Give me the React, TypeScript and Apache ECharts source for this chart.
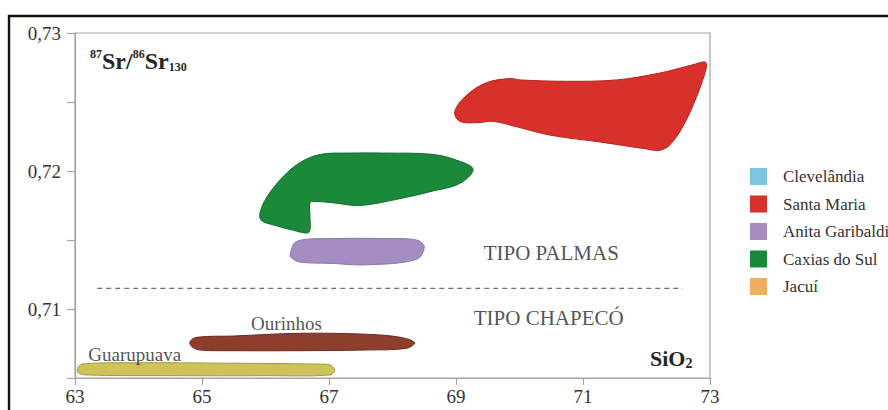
import React, { useEffect, useRef } from "react";
import * as echarts from "echarts";

// Axis ranges and ticks
const X_MIN = 63;
const X_MAX = 73;
const X_TICKS = [63, 65, 67, 69, 71, 73];
const Y_MIN = 0.705;
const Y_MAX = 0.73;
const Y_STEP = 0.005;
const Y_LABELED = [0.71, 0.72, 0.73];

// Legend entries
const LEGEND_NAMES = ["Clevelândia", "Santa Maria", "Anita Garibaldi", "Caxias do Sul", "Jacuí"];
const LEGEND_COLORS = ["#7cc6e0", "#d8312b", "#a38dc1", "#1a8a3a", "#f2ae60"];

// Field outlines: [SiO2, 87Sr/86Sr]
const santaMaria: [number, number][] = [
  [68.98, 0.7243], [69.17, 0.7255], [69.48, 0.7264], [69.85, 0.7267], [70.01, 0.7266],
  [70.74, 0.7265], [71.53, 0.7266], [72.21, 0.7271], [72.73, 0.7277], [72.92, 0.7279],
  [72.95, 0.7276], [72.79, 0.7254], [72.57, 0.7232], [72.37, 0.7219], [72.21, 0.7215],
  [72.0, 0.7216], [71.27, 0.7221], [70.48, 0.7226], [69.96, 0.7232], [69.58, 0.7236],
  [69.33, 0.7235], [69.06, 0.7236],
];

const caxiasDoSul: [number, number][] = [
  [65.91, 0.7169], [66.02, 0.7181], [66.28, 0.7196], [66.54, 0.7206], [66.86, 0.7212],
  [67.33, 0.7213], [67.86, 0.7213], [68.64, 0.7212], [69.06, 0.7207], [69.27, 0.7201],
  [69.06, 0.7191], [68.59, 0.7185], [68.12, 0.718], [67.49, 0.7175], [67.06, 0.7177],
  [66.75, 0.7178], [66.7, 0.7177], [66.7, 0.7167], [66.7, 0.7157], [66.65, 0.7155],
  [66.44, 0.7157], [66.12, 0.7161], [65.94, 0.7164],
];

const anitaGaribaldi: [number, number][] = [
  [66.39, 0.714], [66.49, 0.7149], [67.07, 0.7151], [67.86, 0.7151], [68.38, 0.715],
  [68.5, 0.7145], [68.38, 0.7136], [67.59, 0.7132], [67.07, 0.7133], [66.54, 0.7134],
  [66.41, 0.7137],
];

const ourinhos: [number, number][] = [
  [64.81, 0.70763], [64.92, 0.70795], [65.49, 0.70804], [66.54, 0.70824], [67.59, 0.70817],
  [68.12, 0.70795], [68.35, 0.70756], [68.22, 0.70715], [67.59, 0.70703], [66.54, 0.70698],
  [65.49, 0.70698], [64.97, 0.70703], [64.84, 0.70727],
];

const guarupuava: [number, number][] = [
  [63.04, 0.7057], [63.11, 0.70601], [63.92, 0.70611], [65.49, 0.70607], [66.81, 0.70601],
  [67.02, 0.70594], [67.09, 0.70558], [67.02, 0.70522], [66.02, 0.70517], [64.44, 0.70517],
  [63.18, 0.70522], [63.05, 0.70538],
];

// Palmas / Chapecó divider
const DIVIDER_X = [63.35, 72.57];
const DIVIDER_Y = 0.7115;

// In-plot annotations
const ANNOTATION_NAMES = ["TIPO PALMAS", "TIPO CHAPECÓ", "Ourinhos", "Guarupuava"];
const ANNOTATION_POS: [number, number][] = [
  [70.5, 0.71406],
  [70.46, 0.70935],
  [66.33, 0.70896],
  [63.94, 0.70667],
];
const ANNOTATION_SIZES = [21, 21, 19, 19];

const SERIF = "'Liberation Serif', 'DejaVu Serif', serif";
const AXIS_GRAY = "#aaa39d";
const INK = "#262626";

function fieldSeries(name: string, pts: [number, number][], fill: string, stroke: string) {
  return {
    type: "custom",
    name,
    data: pts,
    encode: { x: 0, y: 1 },
    itemStyle: { color: fill },
    silent: true,
    z: 3,
    renderItem: (params: any, api: any) => {
      if (params.dataIndex !== 0) return null;
      return {
        type: "polygon",
        shape: { points: pts.map((p) => api.coord(p)), smooth: 0.35 },
        style: { fill, stroke, lineWidth: 1 },
      };
    },
  };
}

function emptySeries(name: string, color: string) {
  return {
    type: "custom",
    name,
    data: [],
    itemStyle: { color },
    renderItem: () => null,
  };
}

export default function App() {
  const ref = useRef<HTMLDivElement>(null);

  useEffect(() => {
    if (!ref.current) return;
    const chart = echarts.init(ref.current, null, { renderer: "svg" });

    const option: any = {
      animation: false,
      backgroundColor: "#ffffff",
      tooltip: { show: false },
      grid: {
        left: 75,
        right: 178,
        top: 33,
        bottom: 32,
        show: true,
        borderColor: AXIS_GRAY,
        borderWidth: 1.2,
        backgroundColor: "transparent",
      },
      xAxis: {
        type: "value",
        min: X_MIN,
        max: X_MAX,
        splitLine: { show: false },
        axisLine: { show: true, lineStyle: { color: AXIS_GRAY, width: 1.2 } },
        axisTick: {
          show: true,
          customValues: X_TICKS,
          length: 7,
          lineStyle: { color: AXIS_GRAY, width: 1.2 },
        },
        axisLabel: {
          customValues: X_TICKS,
          margin: 9,
          fontFamily: SERIF,
          fontSize: 19,
          color: "#333",
          formatter: (v: number) => String(Math.round(v)),
        },
      },
      yAxis: {
        type: "value",
        min: Y_MIN,
        max: Y_MAX,
        interval: Y_STEP,
        splitLine: { show: false },
        axisLine: { show: true, lineStyle: { color: AXIS_GRAY, width: 1.2 } },
        axisTick: { show: true, length: 8, lineStyle: { color: AXIS_GRAY, width: 1.2 } },
        axisLabel: {
          margin: 14,
          fontFamily: SERIF,
          fontSize: 19,
          color: "#333",
          formatter: (v: number) =>
            Y_LABELED.some((t) => Math.abs(t - v) < 1e-6) ? v.toFixed(2).replace(".", ",") : "",
        },
      },
      legend: {
        orient: "vertical",
        left: 750,
        top: 168,
        padding: 0,
        itemWidth: 17,
        itemHeight: 17,
        itemGap: 10.5,
        icon: "rect",
        selectedMode: false,
        data: LEGEND_NAMES,
        itemStyle: { borderWidth: 0 },
        textStyle: {
          fontFamily: SERIF,
          fontSize: 17,
          color: "#333",
          padding: [0, 0, 0, 11],
        },
      },
      series: [
        emptySeries(LEGEND_NAMES[0], LEGEND_COLORS[0]),
        fieldSeries(LEGEND_NAMES[1], santaMaria, LEGEND_COLORS[1], "#b5221e"),
        fieldSeries(LEGEND_NAMES[2], anitaGaribaldi, LEGEND_COLORS[2], "#8a78a8"),
        fieldSeries(LEGEND_NAMES[3], caxiasDoSul, LEGEND_COLORS[3], "#136b2c"),
        emptySeries(LEGEND_NAMES[4], LEGEND_COLORS[4]),
        fieldSeries("Ourinhos", ourinhos, "#8e3e2d", "#6b2a1e"),
        fieldSeries("Guarupuava", guarupuava, "#cdc35a", "#a19b45"),
        {
          type: "line",
          name: "divider",
          data: DIVIDER_X.map((x) => [x, DIVIDER_Y]),
          symbol: "none",
          silent: true,
          z: 2,
          lineStyle: { type: [5, 4], color: "#707070", width: 1.3 },
        },
        {
          type: "scatter",
          name: "annotations",
          symbolSize: 0,
          silent: true,
          z: 4,
          data: ANNOTATION_NAMES.map((n, i) => ({
            name: n,
            value: ANNOTATION_POS[i],
            label: { fontSize: ANNOTATION_SIZES[i] },
          })),
          label: {
            show: true,
            position: "inside",
            formatter: "{b}",
            fontFamily: SERIF,
            color: INK,
          },
        },
      ],
      graphic: [
        {
          type: "rect",
          silent: true,
          shape: { x: 9, y: 16, width: 900, height: 420 },
          style: { fill: "none", stroke: "#111", lineWidth: 2.4 },
          z: 10,
        },
        {
          type: "text",
          x: 90,
          y: 48,
          silent: true,
          style: {
            text: "{sup|87}{big|Sr/}{sup|86}{big|Sr}{sub|130}",
            fill: INK,
            rich: {
              sup: { fontFamily: SERIF, fontWeight: "bold", fontSize: 12, verticalAlign: "top", lineHeight: 25, fill: INK },
              big: { fontFamily: SERIF, fontWeight: "bold", fontSize: 24, lineHeight: 25, fill: INK },
              sub: { fontFamily: SERIF, fontWeight: "bold", fontSize: 12, verticalAlign: "bottom", lineHeight: 25, fill: INK },
            },
          },
        },
        {
          type: "text",
          x: 650,
          y: 347,
          silent: true,
          style: {
            text: "{big|SiO}{sub|2}",
            fill: INK,
            rich: {
              big: { fontFamily: SERIF, fontWeight: "bold", fontSize: 22, lineHeight: 23, fill: INK },
              sub: { fontFamily: SERIF, fontWeight: "bold", fontSize: 14, verticalAlign: "bottom", lineHeight: 23, fill: INK },
            },
          },
        },
      ],
    };

    chart.setOption(option);
    return () => chart.dispose();
  }, []);

  return (
    <div style={{ position: "fixed", left: 0, top: 0, width: 888, height: 410, background: "#fff" }}>
      <div ref={ref} style={{ width: 888, height: 410 }} />
    </div>
  );
}
